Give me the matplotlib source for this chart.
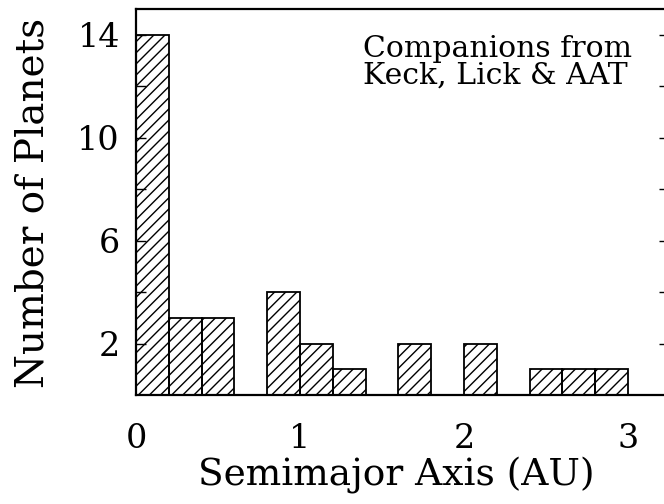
import matplotlib
matplotlib.use("Agg")
import matplotlib.pyplot as plt

# Histogram data (bin left edges in AU, bin width 0.2 AU)
bin_left = [0.0, 0.2, 0.4, 0.6, 0.8, 1.0, 1.2, 1.4, 1.6, 1.8, 2.0, 2.2, 2.4, 2.6, 2.8]
counts = [14, 3, 3, 0, 4, 2, 1, 0, 2, 0, 2, 0, 1, 1, 1]
bin_width = 0.2

ytick_vals = [2, 4, 6, 8, 10, 12, 14]
ytick_labels = ["2", "", "6", "", "10", "", "14"]
xtick_vals = [0, 1, 2, 3]
xtick_labels = ["0", "1", "2", "3"]

plt.rcParams['font.family'] = ['DejaVu Serif']
plt.rcParams['hatch.linewidth'] = 1.0

fig = plt.figure(figsize=(6.64, 5.04), dpi=100)
ax = fig.add_axes([136/664, 109/504, 533/664, 386/504])

ax.bar(bin_left, counts, width=bin_width, align='edge', fill=False,
       hatch='///', edgecolor='black', linewidth=1.3)

ax.set_xlim(0, 3.25)
ax.set_ylim(0, 15)

ax.set_yticks(ytick_vals)
ax.set_yticklabels(ytick_labels)
ax.set_xticks(xtick_vals)
ax.set_xticklabels(xtick_labels)

ax.tick_params(axis='y', direction='in', length=7, width=1.0, pad=11.5,
               labelsize=24, left=True, right=True)
ax.tick_params(axis='x', length=0, pad=20, labelsize=24)

for s in ax.spines.values():
    s.set_linewidth(1.6)

ax.set_xlabel("Semimajor Axis (AU)", fontsize=27, va='baseline')
ax.xaxis.set_label_coords(0.488, (395-485)/386)
ax.set_ylabel("Number of Planets", fontsize=28, va='baseline',
              rotation_mode='anchor')
ax.yaxis.set_label_coords((43-136)/533, 0.497)

ax.text((363-136)/533, (395-35)/386, "Companions from\nKeck, Lick & AAT",
        transform=ax.transAxes, fontsize=21.5, ha='left', va='top',
        linespacing=0.92)

fig.savefig("out.png", dpi=100)
